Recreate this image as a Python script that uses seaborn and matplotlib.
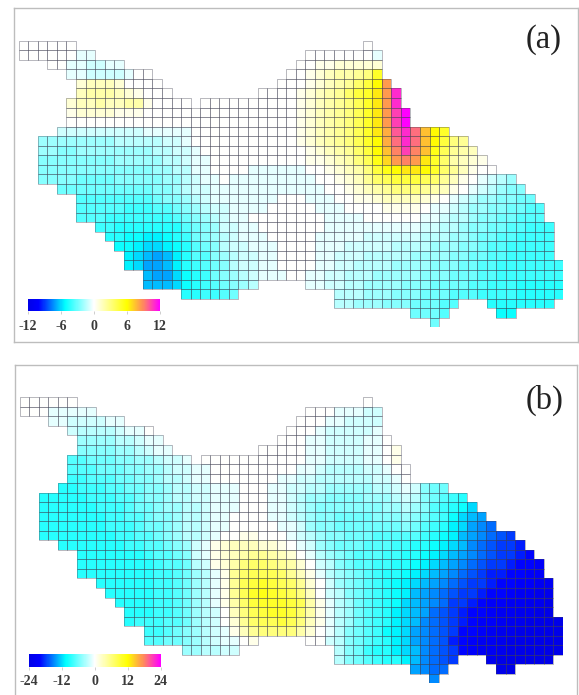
import numpy as np
import matplotlib
matplotlib.use("Agg")
import matplotlib.pyplot as plt
from matplotlib.collections import PatchCollection
from matplotlib.colors import LinearSegmentedColormap
from matplotlib.patches import Rectangle
import seaborn as sns

# Panel (a): values per grid row as (first column, cell values), in half units
A_00 = [(0, [0, 0, 0, 0, 0, 0]), (36, [0])]
A_01 = [(0, [0, 0, 0, 0, 0, 0, -1, -1]), (30, [0, 0, 0, 0, 0, 0, 0, -1])]
A_02 = [(3, [0, 0, -1, -1, -2, -2, -1, -1]), (29, [0, 0, 1, 1, 2, 2, 2, 2, 2])]
A_03 = [(5, [-1, -1, -2, -2, -2, -2, -1, 0, 0]), (28, [0, 0, 1, 2, 3, 4, 4, 5, 6, 10])]
A_04 = [(6, [2, 3, 3, 3, 2, 0, 0, 0, 0]), (27, [0, 0, 0, 1, 2, 3, 4, 5, 7, 9, 12, 17])]
A_05 = [(6, [3, 4, 4, 4, 3, 2, 1, 0, 0, 0]), (25, [0, 0, 0, 0, 1, 2, 3, 4, 5, 7, 9, 10, 13, 17, 22])]
A_06 = [(5, [2, 3, 3, 4, 3, 3, 4, 4, 1, 0, 0, 0, 0]), (19, [0, 0, 0, 0, 0, 0, 0, 0, 0, 0, 1, 2, 3, 4, 5, 6, 8, 10, 13, 17, 22])]
A_07 = [(5, [1, 2, 2, 2, 2, 1, 1, 1, 0, 0, 0, 0, 0, 0, 0, 0, 0, 0, 0, 0, 0, 0, 0, 0, 1, 2, 3, 4, 5, 6, 8, 10, 13, 17, 21, 24])]
A_08 = [(5, [0, 0, 0, 0, 0, 0, 0, 0, 0, 0, 0, 0, 0, 0, 0, 0, 0, 0, 0, 0, 0, 0, 0, 0, 1, 2, 3, 4, 5, 6, 8, 10, 13, 17, 21, 24])]
A_09 = [(4, [-2, -2, -2, -2, -2, -2, -2, -2, -2, -1, -1, -1, -1, -1, 0, 0, 0, 0, 0, 0, 0, 0, 0, 0, 0, 1, 2, 3, 4, 5, 6, 8, 10, 13, 16, 20, 22, 19, 15, 12, 10])]
A_10 = [(2, [-4, -4, -4, -4, -4, -4, -4, -4, -3, -3, -3, -3, -3, -2, -2, -1, 0, 0, 0, 0, 0, 0, 0, 0, 0, 0, 0, 1, 2, 3, 4, 5, 6, 8, 10, 12, 16, 19, 22, 19, 15, 12, 9, 6, 5])]
A_11 = [(2, [-4, -4, -5, -5, -4, -4, -4, -4, -4, -4, -4, -4, -3, -3, -2, -2, -1, 0, 0, 0, 0, 0, 0, 0, 0, 0, 0, 0, 1, 2, 3, 4, 5, 7, 9, 12, 15, 18, 21, 18, 15, 11, 8, 5, 4, 3])]
A_12 = [(2, [-5, -5, -5, -5, -5, -5, -5, -5, -4, -4, -4, -4, -4, -3, -3, -2, -1, -1, 0, 0, 0, 0, 0, 0, 0, 0, 0, 0, 1, 1, 2, 3, 4, 6, 8, 11, 14, 17, 18, 17, 13, 10, 7, 4, 3, 2, 1])]
A_13 = [(2, [-5, -5, -5, -5, -5, -5, -5, -5, -5, -5, -5, -5, -4, -4, -3, -3, -1, -1, 0, 0, 0, 0, -1, -1, -1, -1, -1, -1, 0, 0, 1, 2, 3, 4, 6, 9, 11, 12, 13, 13, 12, 10, 7, 5, 3, 1, 0, 0])]
A_14 = [(2, [-5, -5, -5, -5, -6, -6, -6, -6, -5, -5, -5, -5, -5, -4, -4, -3, -2, -1, -1, 0, -1, -1, -1, -1, -1, -1, -1, -1, -1, 0, 0, 1, 2, 3, 5, 7, 8, 9, 9, 9, 8, 7, 5, 3, 1, 0, -1, -2, -3, -4])]
A_15 = [(4, [-6, -6, -6, -6, -6, -6, -6, -6, -6, -6, -5, -5, -4, -3, -2, -2, -1, -1, -1, -1, -1, -1, -1, -1, -1, -1, -1, -1, 0, 0, 1, 2, 3, 4, 5, 6, 6, 6, 5, 4, 3, 1, 0, -1, -2, -3, -4, -5, -5])]
A_16 = [(6, [-7, -7, -7, -7, -7, -7, -7, -7, -6, -5, -5, -4, -3, -2, -1, -1, -1, -1, -1, -1, -1, 0, 0, 0, -1, -1, -1, 0, 0, 1, 1, 2, 3, 3, 3, 3, 2, 1, 0, -1, -2, -3, -4, -4, -5, -5, -6, -6])]
A_17 = [(6, [-7, -7, -7, -7, -7, -8, -8, -8, -7, -7, -6, -5, -4, -3, -2, -2, -1, -1, -1, -1, 0, 0, 0, 0, 0, -1, -1, -1, 0, 0, 0, 0, 1, 1, 1, 1, 0, -1, -1, -2, -3, -4, -4, -5, -5, -6, -6, -7, -7])]
A_18 = [(6, [-7, -7, -7, -8, -8, -8, -8, -8, -8, -8, -7, -6, -5, -4, -3, -2, -1, -1, 0, 0, 0, 0, 0, 0, 0, 0, -1, -1, -1, -1, 0, 0, 0, 0, 0, 0, -1, -1, -2, -3, -3, -4, -5, -5, -6, -6, -7, -7, -7])]
A_19 = [(8, [-8, -8, -9, -9, -9, -9, -9, -9, -9, -7, -6, -5, -4, -2, -2, -1, -1, 0, 0, 0, 0, 0, 0, 0, -1, -1, -1, -1, -1, -1, -1, -1, -1, -1, -2, -2, -3, -3, -4, -5, -5, -6, -6, -7, -7, -8, -8, -8])]
A_20 = [(9, [-9, -9, -10, -10, -11, -11, -10, -9, -8, -6, -5, -4, -3, -2, -1, -1, -1, 0, 0, 0, 0, 0, -1, -1, -1, -1, -1, -2, -2, -2, -2, -2, -2, -3, -3, -3, -4, -4, -5, -6, -6, -7, -7, -8, -8, -8, -8])]
A_21 = [(10, [-10, -10, -11, -12, -12, -11, -10, -9, -7, -6, -5, -3, -2, -2, -1, -1, -1, 0, 0, 0, 0, -1, -1, -1, -2, -2, -2, -2, -2, -3, -3, -3, -3, -4, -4, -4, -5, -5, -6, -7, -7, -8, -8, -8, -8, -8])]
A_22 = [(11, [-11, -12, -13, -14, -13, -11, -9, -7, -7, -5, -4, -3, -2, -2, -1, -1, 0, 0, 0, 0, -1, -1, -2, -2, -2, -3, -3, -3, -3, -3, -4, -4, -4, -4, -5, -5, -6, -6, -7, -7, -8, -8, -8, -8, -8])]
A_23 = [(11, [-11, -12, -14, -14, -13, -11, -9, -8, -7, -6, -5, -3, -2, -2, -1, -1, 0, 0, 0, 0, -1, -1, -2, -2, -3, -3, -3, -3, -4, -4, -4, -4, -5, -5, -5, -6, -6, -7, -7, -8, -8, -8, -8, -8, -8, -8])]
A_24 = [(13, [-13, -14, -14, -12, -10, -9, -8, -6, -5, -4, -3, -2, -1, -1, -1, 0, 0, -1, -1, -2, -2, -3, -3, -3, -4, -4, -4, -4, -4, -5, -5, -5, -6, -6, -6, -7, -7, -8, -8, -8, -8, -8, -8, -8])]
A_25 = [(13, [-13, -13, -13, -12, -10, -9, -8, -7, -6, -5, -4, -3]), (30, [-1, -1, -2, -2, -3, -3, -4, -4, -4, -4, -5, -5, -5, -6, -6, -6, -6, -7, -7, -8, -8, -8, -9, -9, -9, -9, -9])]
A_26 = [(17, [-9, -9, -8, -8, -7, -6]), (33, [-3, -3, -3, -4, -4, -4, -5, -5, -5, -6, -6, -6, -7, -7, -7, -8, -8, -8, -8, -9, -9, -9, -9, -9])]
A_27 = [(33, [-3, -3, -4, -4, -4, -5, -5, -5, -6, -6, -6, -7, -7]), (49, [-9, -9, -9, -9, -9, -9, -9])]
A_28 = [(41, [-6, -6, -6, -7]), (50, [-10, -10])]
A_29 = [(43, [-6])]

# Panel (b): values per grid row as (first column, cell values)
B_00 = [(0, [0, 0, 0, 0, 0, 0]), (36, [0])]
B_01 = [(0, [0, 0, 0, -1, -1, -1, -1, -1]), (30, [0, 0, 0, -1, -1, -1, -2, -2])]
B_02 = [(3, [-1, -1, -2, -2, -2, -2, -1, -1]), (29, [0, 0, 0, -1, -1, -2, -2, -2, -2])]
B_03 = [(5, [-2, -3, -3, -3, -3, -2, -1, -1, 0]), (28, [0, 0, 0, -1, -2, -2, -2, -2, -2, -1])]
B_04 = [(6, [-4, -4, -4, -4, -3, -3, -2, -1, -1]), (27, [0, 0, 0, -1, -1, -2, -2, -2, -2, -1, -1, 0])]
B_05 = [(6, [-5, -5, -5, -5, -4, -4, -3, -2, -1, -1]), (25, [0, 0, 0, 0, 0, -1, -1, -2, -2, -2, -2, -1, -1, 0, 1])]
B_06 = [(5, [-7, -7, -6, -6, -6, -5, -5, -4, -4, -3, -2, -2, -1]), (19, [0, 0, 0, 0, 0, 0, 0, 0, 0, 0, 0, -1, -1, -2, -2, -2, -2, -1, -1, 0, 1])]
B_07 = [(5, [-7, -7, -7, -6, -6, -6, -5, -5, -4, -4, -3, -2, -2, -1, -1, 0, 0, 0, 0, 0, 0, 0, 0, 0, -1, -1, -2, -3, -3, -3, -3, -2, -2, -1, 0, 0])]
B_08 = [(5, [-8, -8, -7, -7, -7, -6, -6, -5, -5, -4, -3, -3, -2, -1, -1, 0, 0, 0, 0, 0, 0, 0, -1, -1, -2, -2, -3, -3, -3, -3, -3, -3, -2, -2, -1, 0])]
B_09 = [(4, [-9, -9, -8, -8, -8, -7, -7, -6, -6, -5, -5, -4, -3, -3, -2, -2, -1, -1, -1, 0, 0, 0, -1, -1, -2, -2, -3, -3, -4, -4, -4, -4, -4, -3, -3, -2, -1, -2, -5, -6, -6])]
B_10 = [(2, [-9, -9, -9, -9, -9, -8, -8, -8, -7, -7, -6, -5, -5, -4, -3, -3, -2, -2, -1, -1, -1, 0, 0, 0, -1, -1, -2, -3, -4, -4, -5, -5, -5, -5, -4, -4, -4, -3, -2, -3, -5, -6, -7, -8, -9])]
B_11 = [(2, [-9, -9, -9, -9, -9, -9, -8, -8, -8, -7, -6, -6, -5, -4, -4, -3, -3, -2, -1, -1, -1, 0, 0, 0, -1, -1, -2, -3, -4, -5, -5, -5, -5, -5, -5, -5, -4, -4, -3, -4, -5, -7, -8, -9, -10, -12])]
B_12 = [(2, [-9, -9, -9, -9, -9, -9, -9, -8, -8, -7, -7, -6, -5, -5, -4, -3, -3, -2, -1, -1, 0, 0, 0, 0, -1, -1, -2, -3, -4, -5, -5, -6, -6, -6, -6, -5, -5, -5, -4, -5, -6, -7, -8, -10, -12, -13, -14])]
B_13 = [(2, [-9, -9, -9, -9, -9, -9, -9, -8, -8, -8, -7, -6, -6, -5, -4, -3, -3, -2, -1, -1, 0, 0, 0, 0, 0, -1, -1, -2, -4, -5, -5, -6, -6, -6, -6, -6, -6, -6, -5, -6, -7, -8, -9, -11, -12, -14, -15, -16])]
B_14 = [(2, [-9, -9, -9, -9, -9, -9, -9, -9, -8, -8, -7, -7, -6, -5, -4, -3, -3, -2, -1, 0, 0, 1, 1, 0, 0, 0, -1, -2, -3, -4, -5, -5, -6, -6, -6, -7, -7, -7, -7, -7, -8, -9, -10, -11, -13, -14, -15, -16, -17, -18])]
B_15 = [(4, [-9, -9, -9, -9, -9, -9, -9, -8, -8, -7, -7, -6, -5, -4, -2, -1, 1, 2, 3, 3, 3, 2, 2, 1, 0, -1, -2, -4, -5, -6, -6, -6, -7, -7, -7, -8, -8, -9, -9, -10, -11, -12, -13, -15, -16, -17, -18, -18, -19])]
B_16 = [(6, [-9, -9, -9, -9, -9, -9, -9, -8, -7, -7, -6, -5, -2, -1, 1, 2, 3, 4, 5, 5, 4, 3, 2, 0, -1, -3, -4, -5, -6, -7, -7, -7, -8, -8, -9, -9, -10, -11, -12, -13, -14, -15, -16, -17, -18, -18, -19, -20])]
B_17 = [(6, [-9, -9, -9, -9, -9, -9, -9, -9, -8, -7, -7, -6, -3, -2, 1, 2, 4, 6, 7, 7, 6, 5, 4, 2, 0, -2, -3, -5, -6, -7, -7, -8, -8, -9, -9, -10, -11, -12, -13, -14, -15, -16, -17, -18, -18, -19, -20, -20, -21])]
B_18 = [(6, [-9, -9, -9, -9, -9, -9, -9, -9, -8, -8, -7, -6, -4, -3, -1, 1, 5, 7, 8, 8, 8, 7, 5, 3, 1, -1, -3, -4, -5, -6, -7, -8, -9, -9, -10, -11, -12, -13, -14, -15, -16, -17, -18, -19, -19, -20, -20, -21, -21])]
B_19 = [(8, [-9, -9, -9, -9, -9, -9, -8, -8, -7, -6, -4, -3, -1, 1, 5, 8, 9, 10, 9, 8, 7, 5, 2, 0, -2, -4, -5, -6, -7, -8, -9, -10, -11, -12, -13, -14, -15, -16, -17, -18, -18, -19, -20, -20, -21, -21, -22, -22])]
B_20 = [(9, [-9, -9, -9, -9, -9, -8, -8, -7, -6, -4, -3, -1, 1, 5, 8, 10, 11, 10, 9, 8, 6, 3, 0, -2, -3, -5, -6, -7, -8, -9, -10, -11, -13, -14, -15, -16, -17, -18, -18, -19, -20, -20, -21, -22, -22, -23, -23])]
B_21 = [(10, [-9, -9, -9, -9, -8, -8, -7, -6, -4, -3, -1, 1, 4, 7, 9, 10, 10, 10, 9, 8, 4, 1, -1, -3, -4, -6, -7, -8, -9, -10, -12, -13, -14, -15, -16, -18, -18, -19, -20, -21, -21, -22, -22, -23, -23, -24])]
B_22 = [(11, [-9, -9, -9, -8, -8, -7, -6, -4, -3, -2, 0, 3, 6, 8, 9, 10, 10, 9, 7, 4, 1, -1, -3, -4, -6, -7, -8, -9, -11, -12, -13, -14, -16, -17, -18, -19, -20, -20, -21, -22, -22, -23, -23, -24, -24])]
B_23 = [(11, [-9, -8, -8, -8, -7, -7, -6, -4, -3, -2, 0, 2, 5, 7, 8, 8, 9, 8, 6, 3, 1, -1, -3, -4, -6, -7, -8, -9, -11, -12, -13, -15, -16, -17, -18, -19, -20, -21, -21, -22, -23, -23, -24, -24, -24, -24])]
B_24 = [(13, [-8, -8, -7, -6, -5, -4, -3, -2, -1, 1, 3, 5, 6, 6, 6, 6, 4, 2, 0, -1, -3, -5, -6, -7, -8, -10, -11, -12, -14, -15, -16, -17, -18, -20, -20, -21, -22, -23, -23, -24, -24, -24, -24, -24])]
B_25 = [(13, [-7, -7, -6, -6, -5, -4, -3, -2, -1, -1, 0, 1]), (30, [0, 0, -2, -3, -5, -6, -7, -8, -9, -11, -12, -14, -15, -16, -17, -19, -20, -21, -22, -22, -23, -24, -24, -24, -24, -24, -24])]
B_26 = [(17, [-4, -4, -3, -3, -2, -2]), (33, [-3, -5, -6, -8, -9, -9, -11, -12, -13, -15, -16, -17, -18, -20, -21, -22, -22, -23, -24, -24, -24, -24, -24, -24])]
B_27 = [(33, [-3, -5, -6, -7, -8, -9, -9, -11, -13, -15, -16, -17, -18]), (49, [-23, -24, -24, -24, -24, -24, -24])]
B_28 = [(41, [-14, -15, -16, -16]), (50, [-24, -24])]
B_29 = [(43, [-15])]

A_ROWS = [A_00, A_01, A_02, A_03, A_04, A_05, A_06, A_07, A_08, A_09, A_10, A_11, A_12, A_13, A_14,
          A_15, A_16, A_17, A_18, A_19, A_20, A_21, A_22, A_23, A_24, A_25, A_26, A_27, A_28, A_29]
B_ROWS = [B_00, B_01, B_02, B_03, B_04, B_05, B_06, B_07, B_08, B_09, B_10, B_11, B_12, B_13, B_14,
          B_15, B_16, B_17, B_18, B_19, B_20, B_21, B_22, B_23, B_24, B_25, B_26, B_27, B_28, B_29]
A_TICKS = [-12, -6, 0, 6, 12]
B_TICKS = [-24, -12, 0, 12, 24]
PANEL_LABELS = ["(a)", "(b)"]

N_COLS = 57
W, H = 579, 695


def build(rows, scale=1.0):
    grid = np.full((len(rows), N_COLS), np.nan)
    for r, segments in enumerate(rows):
        for start, values in segments:
            grid[r, start:start + len(values)] = np.array(values, dtype=float) * scale
    return grid


def rect(l, t, r, b):
    return [l / W, 1 - b / H, (r - l) / W, (b - t) / H]


cmap = LinearSegmentedColormap.from_list(
    "bcwymag",
    [(0.0, "#0000e8"), (0.08, "#0000ff"), (0.28, "#00ffff"), (0.5, "#ffffff"),
     (0.75, "#ffff00"), (0.87, "#ff8c5a"), (1.0, "#ff00ff")],
)

sns.set_theme(style="white")
plt.rcParams["font.family"] = ["Liberation Serif", "DejaVu Serif"]
plt.rcParams["axes.unicode_minus"] = False
fig = plt.figure(figsize=(W / 100, H / 100), dpi=100, facecolor="white")

panels = [
    dict(grid=build(A_ROWS, 0.5), vmax=12, ticks=A_TICKS, frame=(13.5, 8, 577.7, 342),
         heat=(18.7, 40.7, 563.3, 327.3), cbar=(28, 298.7, 160, 311.3), label=(544, 40)),
    dict(grid=build(B_ROWS), vmax=24, ticks=B_TICKS, frame=(15, 364.5, 576.7, 702),
         heat=(19.7, 397.3, 562.7, 683.3), cbar=(29, 654.3, 160.5, 666.7), label=(545, 400)),
]

for p, text in zip(panels, PANEL_LABELS):
    frame = fig.add_axes(rect(*p["frame"]))
    frame.set_xticks([])
    frame.set_yticks([])
    for s in frame.spines.values():
        s.set_color("#bdbdbd")
        s.set_linewidth(1.0)

    hax = fig.add_axes(rect(*p["heat"]))
    cax = fig.add_axes(rect(*p["cbar"]))
    sns.heatmap(p["grid"], ax=hax, cmap=cmap, vmin=-p["vmax"], vmax=p["vmax"],
                linewidths=0, xticklabels=False, yticklabels=False,
                cbar_ax=cax, cbar_kws={"orientation": "horizontal", "ticks": p["ticks"]})
    hax.patch.set_alpha(0)
    rows, cols = np.nonzero(~np.isnan(p["grid"]))
    cells = [Rectangle((c, r), 1, 1) for r, c in zip(rows, cols)]
    hax.add_collection(PatchCollection(cells, facecolor="none",
                                       edgecolor=(0.25, 0.25, 0.32, 0.4), linewidth=0.65))
    cax.tick_params(axis="x", length=2, width=0.5, color="#bbbbbb", labelsize=10,
                    labelcolor="#3a3a3a", pad=4)
    for t in cax.get_xticklabels():
        t.set_fontweight("bold")
    fig.text(p["label"][0] / W, 1 - p["label"][1] / H, text, fontsize=23.5, color="#222222",
             ha="center", va="center")

fig.savefig("out.png", dpi=100, facecolor="white")
